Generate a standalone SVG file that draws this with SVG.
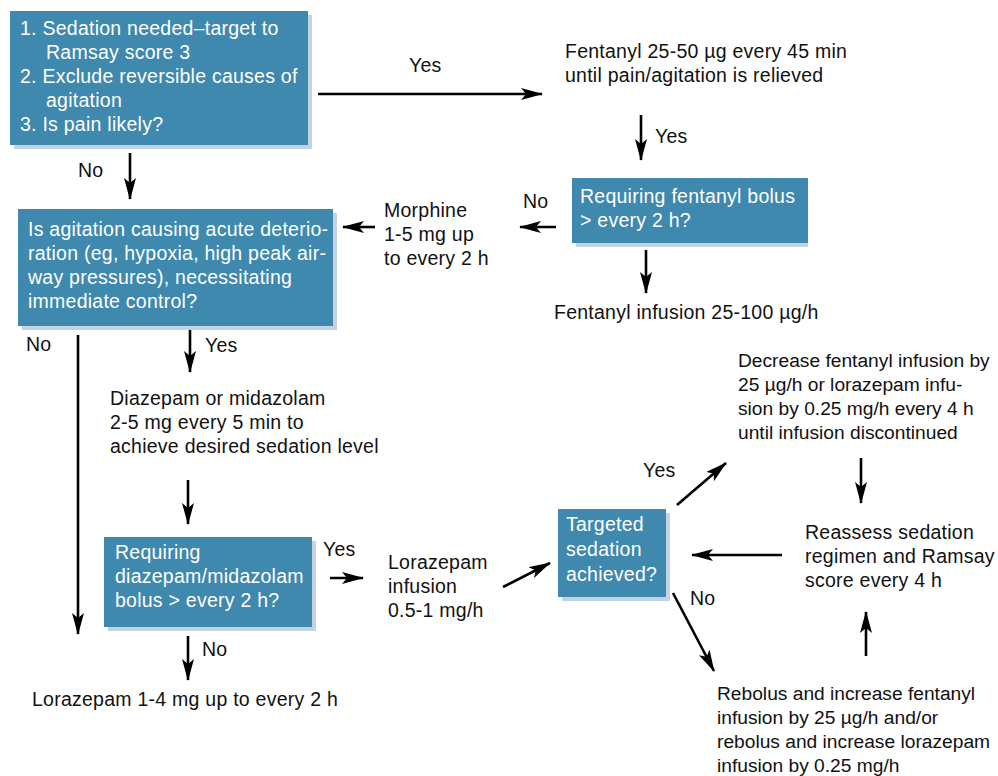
<svg xmlns="http://www.w3.org/2000/svg" width="998" height="776" viewBox="0 0 998 776">
<defs>
<marker id="ahL" markerWidth="22" markerHeight="12" refX="21" refY="6" orient="auto" markerUnits="userSpaceOnUse" viewBox="0 0 22 12">
<path d="M0,0 L22,6 L0,12 L5,6 Z" fill="#000"/>
</marker>
</defs>
<style>
text{font-family:"Liberation Sans",Arial,sans-serif;font-size:19.5px;letter-spacing:0.25px;fill:#111}
.bt{fill:#fff}
.tight{letter-spacing:0;font-size:19.2px}
.box{fill:#3f88ae}
.sh{fill:#c3d2e4}
.c{stroke:#000;stroke-width:2.6;fill:none;marker-end:url(#ahL)}
</style>
<rect width="998" height="776" fill="#fff"/>
<g id="connectors">
<line class="c" x1="318" y1="94" x2="542" y2="94"/>
<line class="c" x1="130" y1="153" x2="130" y2="199"/>
<line class="c" x1="641" y1="115" x2="641" y2="160"/>
<line class="c" x1="646" y1="250" x2="646" y2="293"/>
<line class="c" x1="556" y1="227" x2="520" y2="227"/>
<line class="c" x1="375" y1="227" x2="343" y2="227"/>
<line class="c" x1="78" y1="335" x2="78" y2="634"/>
<line class="c" x1="190" y1="330" x2="190" y2="372"/>
<line class="c" x1="188" y1="480" x2="188" y2="524"/>
<line class="c" x1="188" y1="636" x2="188" y2="680"/>
<line class="c" x1="330" y1="578" x2="363" y2="578"/>
<line class="c" x1="503" y1="587" x2="550" y2="563"/>
<line class="c" x1="677" y1="505" x2="726" y2="463"/>
<line class="c" x1="861" y1="458" x2="861" y2="503"/>
<line class="c" x1="782" y1="555" x2="692" y2="555"/>
<line class="c" x1="673" y1="593" x2="714" y2="671"/>
<line class="c" x1="866" y1="656" x2="866" y2="612"/>
</g>
<g id="labels">
<text x="409" y="72">Yes</text>
<text x="78" y="177">No</text>
<text x="655" y="143">Yes</text>
<text x="523" y="208">No</text>
<text x="26" y="351">No</text>
<text x="205" y="352">Yes</text>
<text x="323" y="556">Yes</text>
<text x="202" y="656">No</text>
<text x="643" y="477">Yes</text>
<text x="690" y="605">No</text>
</g>
<g id="n1">
<rect class="sh" x="14" y="15" width="298" height="134"/>
<rect class="box" x="10" y="11" width="298" height="134"/>
<text class="bt" x="20" y="35">1.  Sedation needed–target to</text>
<text class="bt" x="46" y="59">Ramsay score 3</text>
<text class="bt" x="20" y="83">2.  Exclude reversible causes of</text>
<text class="bt" x="46" y="107">agitation</text>
<text class="bt" x="20" y="131">3.  Is pain likely?</text>
</g>
<g id="n2">
<text x="565" y="58">Fentanyl 25-50 µg every 45 min</text>
<text x="565" y="82">until pain/agitation is relieved</text>
</g>
<g id="n3">
<rect class="sh" x="576" y="182" width="232" height="65"/>
<rect class="box" x="572" y="178" width="236" height="65"/>
<text class="bt" x="580" y="203">Requiring fentanyl bolus</text>
<text class="bt" x="580" y="227">&gt; every 2 h?</text>
</g>
<g id="n4">
<text x="554" y="319">Fentanyl infusion 25-100 µg/h</text>
</g>
<g id="n5">
<text x="384" y="217">Morphine</text>
<text x="384" y="241">1-5 mg up</text>
<text x="384" y="265">to every 2 h</text>
</g>
<g id="n6">
<rect class="sh" x="22" y="213" width="315" height="117"/>
<rect class="box" x="18" y="209" width="315" height="117"/>
<text class="bt" x="28" y="236">Is agitation causing acute deterio-</text>
<text class="bt" x="28" y="260">ration (eg, hypoxia, high peak air-</text>
<text class="bt" x="28" y="284">way pressures), necessitating</text>
<text class="bt" x="28" y="308">immediate control?</text>
</g>
<g id="n7">
<text x="110" y="405">Diazepam or midazolam</text>
<text x="110" y="429">2-5 mg every 5 min to</text>
<text x="110" y="453">achieve desired sedation level</text>
</g>
<g id="n8">
<rect class="sh" x="108" y="541" width="208" height="90"/>
<rect class="box" x="104" y="537" width="208" height="90"/>
<text class="bt" x="115" y="559">Requiring</text>
<text class="bt" x="115" y="583">diazepam/midazolam</text>
<text class="bt" x="115" y="607">bolus &gt; every 2 h?</text>
</g>
<g id="n9">
<text x="32" y="706">Lorazepam 1-4 mg up to every 2 h</text>
</g>
<g id="n10">
<text x="388" y="569">Lorazepam</text>
<text x="388" y="593">infusion</text>
<text x="388" y="617">0.5-1 mg/h</text>
</g>
<g id="n11">
<rect class="sh" x="562" y="513" width="108" height="88"/>
<rect class="box" x="558" y="509" width="108" height="88"/>
<text class="bt" x="566" y="531">Targeted</text>
<text class="bt" x="566" y="556">sedation</text>
<text class="bt" x="566" y="581">achieved?</text>
</g>
<g id="n12" class="tight">
<text class="tight" x="738" y="367">Decrease fentanyl infusion by</text>
<text class="tight" x="738" y="391">25 µg/h or lorazepam infu-</text>
<text class="tight" x="738" y="415">sion by 0.25 mg/h every 4 h</text>
<text class="tight" x="738" y="439">until infusion discontinued</text>
</g>
<g id="n13">
<text x="805" y="539">Reassess sedation</text>
<text x="805" y="563">regimen and Ramsay</text>
<text x="805" y="587">score every 4 h</text>
</g>
<g id="n14">
<text class="tight" x="717" y="700">Rebolus and increase fentanyl</text>
<text class="tight" x="717" y="724">infusion by 25 µg/h and/or</text>
<text class="tight" x="717" y="748">rebolus and increase lorazepam</text>
<text class="tight" x="717" y="772">infusion by 0.25 mg/h</text>
</g>
</svg>
